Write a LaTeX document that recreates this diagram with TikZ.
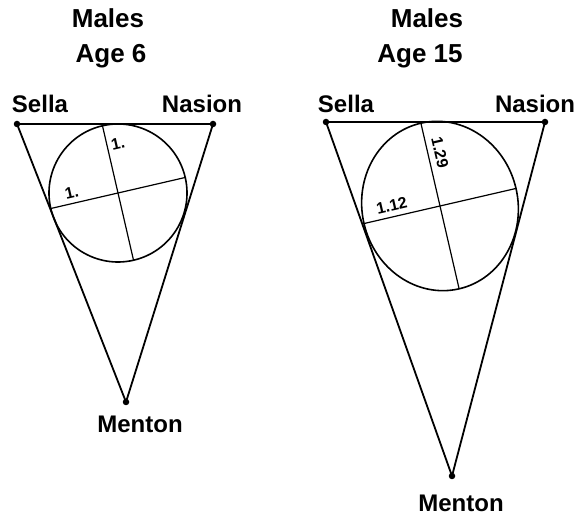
\documentclass[tikz,border=0pt]{standalone}
\usepackage{fontspec}
\setmainfont{Liberation Sans}
\usetikzlibrary{positioning}

\tikzset{
  landmark/.style={circle, fill=black, inner sep=0pt, minimum size=6.5pt},
  ptname/.style={font=\fontsize{24}{26}\selectfont\bfseries, anchor=base, inner sep=0pt},
  heading/.style={font=\fontsize{26}{28}\selectfont\bfseries, anchor=base, inner sep=0pt},
  axisval/.style={font=\fontsize{16}{18}\selectfont\bfseries, inner sep=0pt, transform shape},
  side/.style={line width=1.8pt, line join=round},
  outline/.style={line width=1.6pt},
  axisline/.style={line width=1.2pt},
}

\begin{document}
\begin{tikzpicture}[x=1pt, y=1pt]
    \useasboundingbox (0,0) rectangle (585,518);

    % Males, age 6
    \node[heading] (males6) at (108,490) {Males};
    \node[heading] (age6) at (111,455) {Age 6};
    \node[landmark] (sella6) at (17,394) {};
    \node[landmark] (nasion6) at (213,394) {};
    \node[landmark] (menton6) at (126,116) {};
    \node[ptname] (sellaname6) at (40,405) {Sella};
    \node[ptname] (nasionname6) at (202,405) {Nasion};
    \node[ptname] (mentonname6) at (140,85) {Menton};
    \draw[side] (sella6.center) -- (nasion6.center) -- (menton6.center) -- cycle;
    \coordinate (face6) at (118,325);
    \begin{scope}[shift={(face6)}, rotate=13]
        \draw[outline] (0,0) circle (69);
        \draw[axisline] (-69,0) -- (69,0);
        \draw[axisline] (0,-69) -- (0,69);
        \node[axisval] (v6) at (11,48) {1.};
        \node[axisval] (h6) at (-45,11) {1.};
    \end{scope}

    % Males, age 15
    \node[heading] (males15) at (427,490) {Males};
    \node[heading] (age15) at (420,455) {Age 15};
    \node[landmark] (sella15) at (326,396) {};
    \node[landmark] (nasion15) at (545,396) {};
    \node[landmark] (menton15) at (452,42) {};
    \node[ptname] (sellaname15) at (346,405) {Sella};
    \node[ptname] (nasionname15) at (535,405) {Nasion};
    \node[ptname] (mentonname15) at (461,6) {Menton};
    \draw[side] (sella15.center) -- (nasion15.center) -- (menton15.center) -- cycle;
    \coordinate (face15) at (440,312);
    \begin{scope}[shift={(face15)}, rotate=13]
        \draw[outline] (0,0) ellipse [x radius=78, y radius=85];
        \draw[axisline] (-78,0) -- (78,0);
        \draw[axisline] (0,-85) -- (0,85);
        \node[axisval, rotate=-90] (v15) at (12,52) {1.29};
        \node[axisval] (h15) at (-47,11) {1.12};
    \end{scope}
\end{tikzpicture}
\end{document}
